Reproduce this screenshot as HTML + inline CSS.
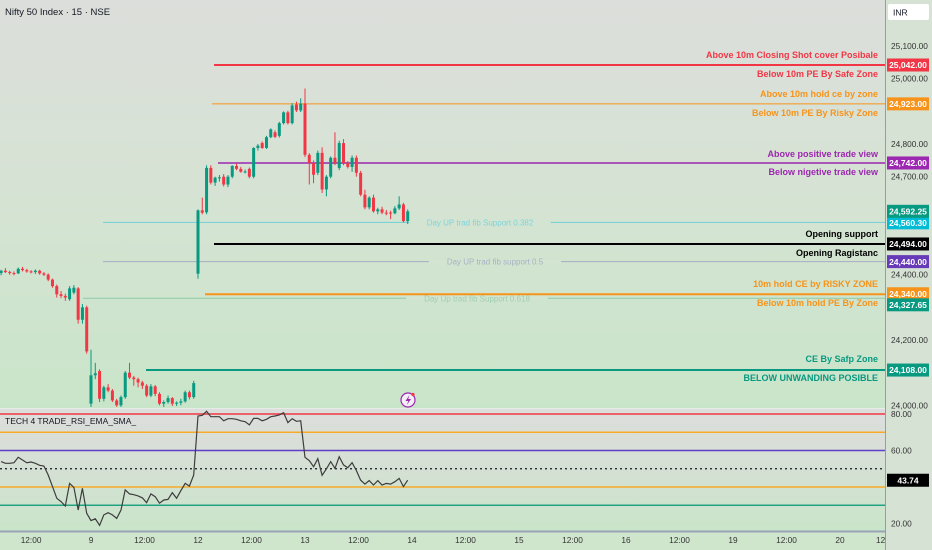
<!DOCTYPE html>
<html><head><meta charset="utf-8">
<style>
html,body{margin:0;padding:0;width:932px;height:550px;overflow:hidden;background:#d6e6d4;font-family:"Liberation Sans",sans-serif;}
svg text{font-family:"Liberation Sans",sans-serif;}
</style></head>
<body>
<svg id="chart" width="932" height="550" viewBox="0 0 932 550" xmlns="http://www.w3.org/2000/svg">
<defs>
<linearGradient id="bgMain" x1="0" y1="0" x2="0" y2="1">
<stop offset="0" stop-color="#dcdedb"/><stop offset="0.45" stop-color="#d6e3d4"/><stop offset="1" stop-color="#c9e5c9"/>
</linearGradient>
<linearGradient id="bgRsi" x1="0" y1="0" x2="0" y2="1">
<stop offset="0" stop-color="#dcdedb"/><stop offset="0.35" stop-color="#d8dfd7"/><stop offset="1" stop-color="#c9e5c9"/>
</linearGradient>
</defs>
<rect x="0" y="0" width="885" height="408" fill="url(#bgMain)"/>
<rect x="0" y="409" width="885" height="122" fill="url(#bgRsi)"/>
<rect x="886" y="0" width="46" height="550" fill="#d6e2d4"/>
<rect x="0" y="532" width="886" height="18" fill="#cfe6cd"/>
<line x1="0" y1="408.5" x2="885" y2="408.5" stroke="#e8ece8" stroke-width="1"/>
<line x1="0" y1="531.5" x2="885" y2="531.5" stroke="#9aa3b5" stroke-width="2"/>
<line x1="885.5" y1="0" x2="885.5" y2="550" stroke="#9d8fe0" stroke-width="1"/>
<text x="5" y="15" font-size="9.5" fill="#131722">Nifty 50 Index · 15 · NSE</text>
<rect x="888" y="4" width="41" height="16" rx="2" fill="#ffffff"/>
<text x="893" y="15.5" font-size="8.5" fill="#131722">INR</text>
<text x="5" y="424" font-size="8.5" fill="#131722">TECH 4 TRADE_RSI_EMA_SMA_</text>
<g id="levels"></g>
<g id="candles"></g>
<g id="rsi"></g>
<g id="axes"></g>
<g>
<circle cx="408" cy="400" r="7" fill="#f3eef8" stroke="#9c27b0" stroke-width="1.2"/>
<path d="M409.5 395 L405.5 401 L408.3 401 L406.8 405 L411 399 L408.2 399 Z" fill="#9c27b0"/>
<circle cx="413" cy="394.5" r="1.6" fill="#f23645"/>
</g>
</svg>
<script>
// ---------- DATA ----------
const opens = [24405,24412,24408,24405,24404,24418,24414,24410,24408,24412,24404,24400,24385,24365,24340,24335,24325,24345,24358,24262,24300,
24005,24092,24105,24020,24055,24045,24015,24000,24025,24100,24085,24080,24070,24060,24030,24058,24035,24005,24010,24022,24005,24008,24012,24040,24025,
24403,24597,24591,24727,24682,24697,24700,24676,24700,24733,24724,24715,24724,24700,24788,24803,24788,24821,24836,24825,24864,24897,24864,24921,24903,
24924,24767,24742,24712,24773,24661,24700,24758,24727,24803,24742,24730,24758,24712,24645,24606,24636,24594,24600,24590,24590,24588,24603,24615,24564];
const highs = [24415,24420,24412,24410,24422,24424,24418,24414,24416,24415,24408,24404,24388,24370,24350,24342,24365,24368,24362,24310,24305,
24170,24130,24110,24060,24065,24050,24020,24030,24105,24130,24090,24085,24075,24065,24065,24062,24040,24015,24030,24025,24012,24020,24045,24045,24075,
24600,24636,24735,24735,24700,24705,24708,24705,24735,24740,24730,24722,24728,24790,24800,24808,24825,24848,24842,24868,24900,24902,24925,24930,24940,
24970,24772,24750,24780,24790,24705,24762,24836,24810,24815,24748,24765,24765,24718,24660,24640,24645,24605,24608,24598,24596,24610,24640,24620,24600];
const lows = [24398,24405,24400,24398,24402,24410,24406,24404,24402,24400,24396,24380,24360,24330,24328,24320,24320,24340,24250,24250,24158,
23995,24080,24010,24012,24040,24010,23995,23995,24020,24080,24060,24055,24050,24025,24025,24028,24000,23995,24005,23998,23998,24000,24008,24018,24020,
24388,24585,24585,24676,24672,24685,24670,24668,24695,24720,24712,24710,24695,24695,24780,24785,24785,24818,24818,24820,24860,24860,24860,24898,24898,
24760,24676,24680,24705,24650,24640,24695,24735,24720,24735,24725,24715,24700,24640,24600,24600,24590,24585,24585,24582,24570,24585,24598,24560,24555];
const closes = [24412,24408,24405,24404,24418,24414,24410,24408,24412,24404,24400,24385,24365,24340,24335,24330,24358,24360,24262,24300,24165,
24092,24098,24020,24055,24045,24015,24000,24025,24100,24085,24080,24070,24060,24030,24058,24035,24005,24010,24022,24005,24008,24012,24040,24025,24068,
24597,24590,24727,24682,24697,24698,24676,24700,24733,24724,24715,24716,24700,24788,24795,24788,24821,24845,24822,24864,24897,24864,24918,24903,24924,
24767,24742,24706,24773,24661,24700,24758,24742,24803,24742,24730,24758,24712,24645,24606,24636,24594,24600,24590,24588,24588,24603,24615,24564,24594];
const rsiValues = [53.9,53.0,53.0,53.3,56.3,54.8,53.3,53.7,53.0,51.9,51.5,46.6,40.2,33.8,32.0,29.6,42.0,39.8,27.4,39.3,25.6,
21.6,22.6,19.0,24.7,25.9,24.7,22.8,27.4,38.4,36.2,35.8,35.1,34.0,31.4,36.2,34.7,31.1,32.9,33.2,36.9,33.8,38.0,42.0,40.5,46.6,
78.9,79.3,81.5,78.5,78.5,78.5,76.3,77.4,77.4,77.1,76.3,75.8,74.0,77.6,77.6,76.3,77.1,78.5,78.9,79.5,80.7,75.3,77.4,76.0,76.3,
56.3,54.4,51.1,55.5,46.4,49.9,53.9,50.2,56.6,52.1,50.6,53.3,49.0,43.8,41.6,43.5,41.1,43.5,41.1,42.0,41.6,42.9,44.7,40.2,43.7];
const firstIndex = -21;
const levelPrices = [25042,24923,24742,24560.30,24494,24440,24340,24327.65,24108];
const priceTicks = [25100,25000,24800,24700,24400,24200,24000];
const priceTickLabels = ["25,100.00","25,000.00","24,800.00","24,700.00","24,400.00","24,200.00","24,000.00"];
const rsiTicks = [80,60,20];
const rsiTickLabels = ["80.00","60.00","20.00"];
const rsiLevels = [80,70,60,50,40,30];
const timeSlots = [-14,0,12.5,25,37.5,50,62.5,75,87.5,100,112.5,125,137.5,150,162.5,175,184.5];
const timeLabels = ["12:00","9","12:00","12","12:00","13","12:00","14","12:00","15","12:00","16","12:00","19","12:00","20","12"];

// ---------- SCALES ----------
const xOf = i => 91 + i*4.28;
const yOf = p => 65 + (25042 - p)*0.3266;
const yR = v => 414 + (80 - v)*1.825;
const NS = "http://www.w3.org/2000/svg";
function mk(tag, attrs, parent){const e=document.createElementNS(NS,tag);for(const k in attrs)e.setAttribute(k,attrs[k]);parent.appendChild(e);return e;}
const fmt = p => p.toLocaleString('en-US',{minimumFractionDigits:2,maximumFractionDigits:2});

// ---------- LEVEL LINES ----------
const levelStyle = [
 {x:214,c:"#f23645",w:2,tag:"#f23645"},
 {x:212,c:"#f7931a",w:1,tag:"#f7931a"},
 {x:218,c:"#9c27b0",w:1.5,tag:"#9c27b0"},
 {x:103,c:"#6fcfd6",w:1,tag:"#00bcd4"},
 {x:214,c:"#000000",w:2,tag:"#000000"},
 {x:103,c:"#a6adc2",w:1,tag:"#673ab7"},
 {x:205,c:"#f7931a",w:2,tag:"#f7931a"},
 {x:83,c:"#8fc9a5",w:1,tag:"#089981"},
 {x:146,c:"#089981",w:2,tag:"#089981"}];
const tagOffsets = [0,0,0,0.5,0,0,-0.5,6.5,0];
const gL = document.getElementById('levels');
// fib labels (background gap only on fib line itself)
const fibs=[[24560.30,"Day UP trad fib Support 0.382",480,"#7fd3d9"],[24440,"Day UP trad fib support 0.5",495,"#a9b0c4"],[24327.65,"Day Up trad fib Support 0.618",477,"#9fcdb0"]];
levelPrices.forEach((p,k)=>{
  const s=levelStyle[k]; const y=yOf(p);
  const ln=mk('line',{x1:s.x,y1:y,x2:885,y2:y,stroke:s.c,'stroke-width':s.w},gL);
  
  
  fibs.forEach(f=>{
    if(f[0]!==p) return;
    const w=f[1].length*4.6+8;
    const r=mk('rect',{x:f[2]-w/2,y:y-1.5,width:w,height:3,fill:"#d3e5d2"},gL);
    
    
  });
});
fibs.forEach(f=>{
  const y=yOf(f[0]);
  const t=mk('text',{x:f[2],y:y+3,'font-size':8,'text-anchor':'middle',fill:f[3]},gL);
  t.textContent=f[1];
  
  
});
// right-side annotations
const notes=[
 ["Above 10m Closing Shot cover Posibale",55,"#f23645"],["Below 10m PE By Safe Zone",74,"#f23645"],
 ["Above 10m hold ce by zone",94,"#f7931a"],["Below 10m PE By Risky Zone",113,"#f7931a"],
 ["Above positive trade view",154,"#9c27b0"],["Below nigetive trade view",172,"#9c27b0"],
 ["Opening support",234,"#000000"],["Opening Ragistanc",253,"#000000"],
 ["10m hold CE by RISKY ZONE",284,"#f7931a"],["Below 10m hold PE By Zone",303,"#f7931a"],
 ["CE By Safp Zone",359,"#089981"],["BELOW UNWANDING POSIBLE",378,"#089981"]];
notes.forEach(n=>{
  const t=mk('text',{x:878,y:n[1]+3,'font-size':9,'font-weight':'bold','text-anchor':'end',fill:n[2]},gL);
  t.textContent=n[0];
  
  
});

// ---------- CANDLES ----------
const gC=document.getElementById('candles');
for(let k=0;k<closes.length;k++){
  const i=firstIndex+k; const x=xOf(i);
  const up=closes[k]>=opens[k]; const col=up?"#089981":"#f23645";
  const w=mk('line',{x1:x,y1:yOf(highs[k]),x2:x,y2:yOf(lows[k]),stroke:col,'stroke-width':1},gC);
  
  
  const top=yOf(Math.max(opens[k],closes[k])); const h=Math.max(1,yOf(Math.min(opens[k],closes[k]))-top);
  const b=mk('rect',{x:x-1.5,y:top,width:3,height:h,fill:col},gC);
  
  
}

// ---------- RSI ----------
const gR=document.getElementById('rsi');
const rsiCols={80:"#f23645",70:"#f7a928",60:"#5b3fc4",50:"#131722",40:"#f7a928",30:"#22a183"};
rsiLevels.forEach(v=>{
  const l=mk('line',{x1:0,y1:yR(v),x2:885,y2:yR(v),stroke:rsiCols[v],'stroke-width':v===50?1.2:1.4},gR);
  if(v===50) l.setAttribute('stroke-dasharray','2,3');
  
  
});
let d=''; rsiValues.forEach((v,k)=>{d+=(k?'L':'M')+xOf(firstIndex+k).toFixed(1)+' '+yR(v).toFixed(1);});
const rp=mk('path',{d:d,fill:'none',stroke:'#3d3d3d','stroke-width':1.2},gR);



// ---------- AXES ----------
const gA=document.getElementById('axes');
priceTicks.forEach((p,k)=>{
  const t=mk('text',{x:891,y:yOf(p)+3,'font-size':8.3,fill:'#333'},gA);
  t.textContent=priceTickLabels[k];
  
  
});
rsiTicks.forEach((v,k)=>{
  const t=mk('text',{x:891,y:yR(v)+3,'font-size':8.3,fill:'#333'},gA);
  t.textContent=rsiTickLabels[k];
  
  
});
function tag(y,txt,bg,name){
  const r=mk('rect',{x:887,y:y-6.5,width:42,height:13,fill:bg},gA);
  
  
  const t=mk('text',{x:908,y:y+3.2,'font-size':8.5,'font-weight':'bold','text-anchor':'middle',fill:'#fff'},gA);
  t.textContent=txt;
  
  
}
levelPrices.forEach((p,k)=>{
  tag(yOf(p)+tagOffsets[k],fmt(p),levelStyle[k].tag,'level-price-tag');
});
tag(yOf(closes[closes.length-1]),fmt(24592.25),"#089981",'last-price-tag');
tag(yR(rsiValues[rsiValues.length-1]),"43.74","#000000",'rsi-value-tag');
timeSlots.forEach((s,k)=>{
  const t=mk('text',{x:xOf(s),y:543,'font-size':8.3,'text-anchor':'middle',fill:'#333'},gA);
  t.textContent=timeLabels[k];
  
  
});
</script>
</body></html>
